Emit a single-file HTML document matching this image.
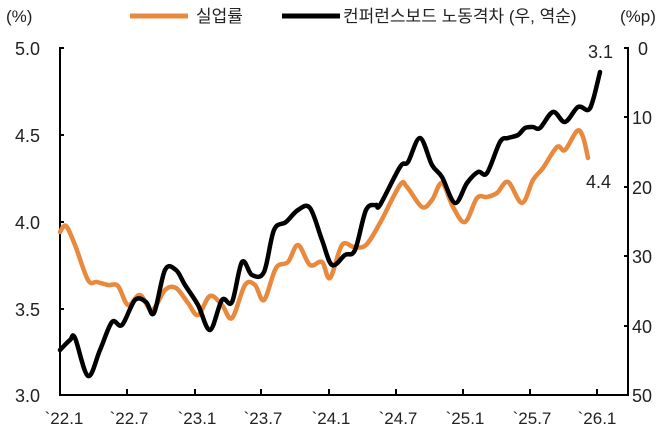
<!DOCTYPE html>
<html><head><meta charset="utf-8"><style>
body{margin:0;background:#fff;}
svg text{font-family:"Liberation Sans","Noto Sans CJK KR",sans-serif;fill:#222;}
</style></head><body>
<svg width="671" height="442" viewBox="0 0 671 442" xmlns="http://www.w3.org/2000/svg">
<g font-size="17">
<text x="6" y="22">(%)</text>
<text x="620" y="22">(%p)</text>
<line x1="130" y1="16" x2="188" y2="16" stroke="#E8893E" stroke-width="5"/>
<text x="196" y="22">실업률</text>
<line x1="282" y1="16" x2="340" y2="16" stroke="#000" stroke-width="5"/>
<text x="343" y="22">컨퍼런스보드 노동격차 (우, 역순)</text>
</g>
<g font-size="18" text-anchor="end">
<text x="40" y="55">5.0</text><text x="40" y="142">4.5</text><text x="40" y="229">4.0</text><text x="40" y="316">3.5</text><text x="40" y="402">3.0</text>
</g>
<g font-size="18">
<text x="638" y="55">0</text><text x="632" y="124">10</text><text x="632" y="194">20</text><text x="632" y="263">30</text><text x="632" y="333">40</text><text x="632" y="402">50</text>
</g>
<g stroke="#000" stroke-width="2" fill="none">
<polyline points="64,48 60,48 60,395 628,395 628,48 624,48"/>
<line x1="60" y1="135" x2="64" y2="135"/><line x1="60" y1="222" x2="64" y2="222"/><line x1="60" y1="309" x2="64" y2="309"/>
<line x1="628" y1="117" x2="624" y2="117"/><line x1="628" y1="187" x2="624" y2="187"/><line x1="628" y1="256" x2="624" y2="256"/><line x1="628" y1="326" x2="624" y2="326"/>
<line x1="127" y1="395" x2="127" y2="389"/><line x1="195" y1="395" x2="195" y2="389"/><line x1="261" y1="395" x2="261" y2="389"/><line x1="329" y1="395" x2="329" y2="389"/><line x1="396" y1="395" x2="396" y2="389"/><line x1="463" y1="395" x2="463" y2="389"/><line x1="530" y1="395" x2="530" y2="389"/><line x1="597" y1="395" x2="597" y2="389"/>
</g>
<g font-size="17" text-anchor="middle">
<text x="64" y="424">`22.1</text><text x="129" y="424">`22.7</text><text x="197" y="424">`23.1</text><text x="263" y="424">`23.7</text><text x="331" y="424">`24.1</text><text x="398" y="424">`24.7</text><text x="465" y="424">`25.1</text><text x="532" y="424">`25.7</text><text x="597" y="424">`26.1</text>
</g>
<path id="o" fill="none" stroke="#E8893E" stroke-width="4.5" stroke-linejoin="round" stroke-linecap="round"/>
<path id="b" fill="none" stroke="#000" stroke-width="4.5" stroke-linejoin="round" stroke-linecap="round"/>
<text x="588" y="58" font-size="18">3.1</text>
<text x="586" y="188" font-size="18">4.4</text>
</svg>
<script>
function sm(s){var p=s.trim().split(/\s+/).map(function(t){return t.split(',').map(Number);});
var d='M'+p[0][0]+','+p[0][1];
for(var i=0;i<p.length-1;i++){var a=p[i-1]||p[i],b=p[i],c=p[i+1],e=p[i+2]||c;
d+=' C'+(b[0]+(c[0]-a[0])/6)+','+(b[1]+(c[1]-a[1])/6)+' '+(c[0]-(e[0]-b[0])/6)+','+(c[1]-(e[1]-b[1])/6)+' '+c[0]+','+c[1];}
return d;}
document.getElementById('o').setAttribute('d',sm("60,232 66,226 75,245 88,280 97,282 108,285 118,286 128,305 140,295 152,310 165,290 176,288 188,303 198,315 210,296 222,305 232,318 245,285 255,285 264,300 276,268 288,262 298,245 310,265 322,262 330,278 342,245 354,247 366,245 380,223 400,185 407,187 422,207 432,200 442,183 453,207 465,222 477,198 487,197 497,193 508,182 522,203 533,180 543,168 557,147 565,150 577,131 583,137 588,158"));
document.getElementById('b').setAttribute('d',sm("60,350 70,340 75,338 88,376 100,350 112,322 122,325 135,300 146,302 154,313 165,270 176,270 185,285 198,305 210,330 222,300 232,302 242,262 252,275 264,272 274,230 286,222 298,210 310,208 322,240 332,265 345,255 355,250 366,210 376,205 380,205 400,167 408,162 420,138 432,165 442,177 455,203 467,183 478,172 487,173 500,142 508,138 518,135 525,128 533,127 540,128 553,112 565,122 578,107 588,110 593,100 600,72"));
</script>
</body></html>
